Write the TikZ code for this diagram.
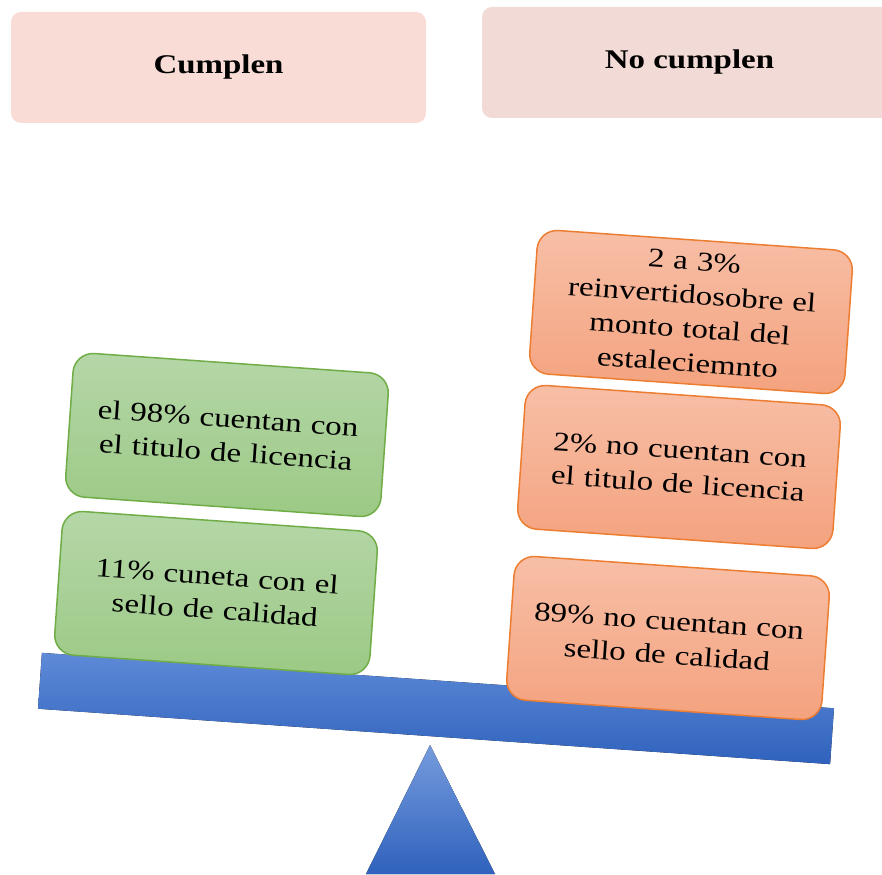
\documentclass[tikz,border=0pt]{standalone}
\usepackage{fontspec}
\setmainfont{Liberation Serif}[FakeStretch=1.22]
\definecolor{headA}{HTML}{F8DCD5}
\definecolor{headB}{HTML}{F2DAD6}
\definecolor{greenTop}{HTML}{B5D7A8}
\definecolor{greenBot}{HTML}{9CC985}
\definecolor{greenLine}{HTML}{70AD47}
\definecolor{orangeTop}{HTML}{F7BFA7}
\definecolor{orangeBot}{HTML}{F4A27E}
\definecolor{orangeLine}{HTML}{ED7D31}
\definecolor{blueTop}{HTML}{5E8AD7}
\definecolor{blueBot}{HTML}{2F62BD}

\tikzset{
headbox/.style={fill=#1, rounded corners=10pt, minimum width=415pt, minimum height=111pt,
  font=\fontsize{27}{34}\selectfont\bfseries},
stackbox/.style={draw=#1Line, line width=1.5pt, top color=#1Top, bottom color=#1Bot,
  rounded corners=20pt, minimum width=316pt, minimum height=144pt, inner sep=0pt,
  text width=300pt, align=center, rotate=-4, font=\fontsize{27}{34}\selectfont},
}

\begin{document}
\begin{tikzpicture}[x=1pt,y=-1pt]
\useasboundingbox (0,0) rectangle (882,874);
\clip (0,0) rectangle (882,874);
% headers
\node[headbox=headA] (cumplen) at (218.5,67.5) {Cumplen};
\node[headbox=headB] (nocumplen) at (689.5,62.5) {No cumplen};
% beam and pivot
\path (436,708.5) coordinate (B) (430,745) coordinate (apex);
\begin{scope}[rotate around={-4:(B)}]
\fill[top color=blueTop, bottom color=blueBot] (B)++(-397,-28) rectangle ++(794,56);
\end{scope}
\fill[top color=blueTop!85!white, bottom color=blueBot] (apex) -- (495,874) -- (366,874) -- cycle;
% left pan
\node[stackbox=green] (licencia) at (227,435) {el 98\% cuentan con\\el titulo de licencia};
\node[stackbox=green] (sello) at (216,593) {11\% cuneta con el\\sello de calidad};
% right pan
\node[stackbox=orange] (reinv) at (691,312) {2 a 3\%\\reinvertidosobre el\\monto total del\\estaleciemnto};
\node[stackbox=orange] (nolicencia) at (679,467) {2\% no cuentan con\\el titulo de licencia};
\node[stackbox=orange] (nosello) at (668,638) {89\% no cuentan con\\sello de calidad};
\end{tikzpicture}
\end{document}
